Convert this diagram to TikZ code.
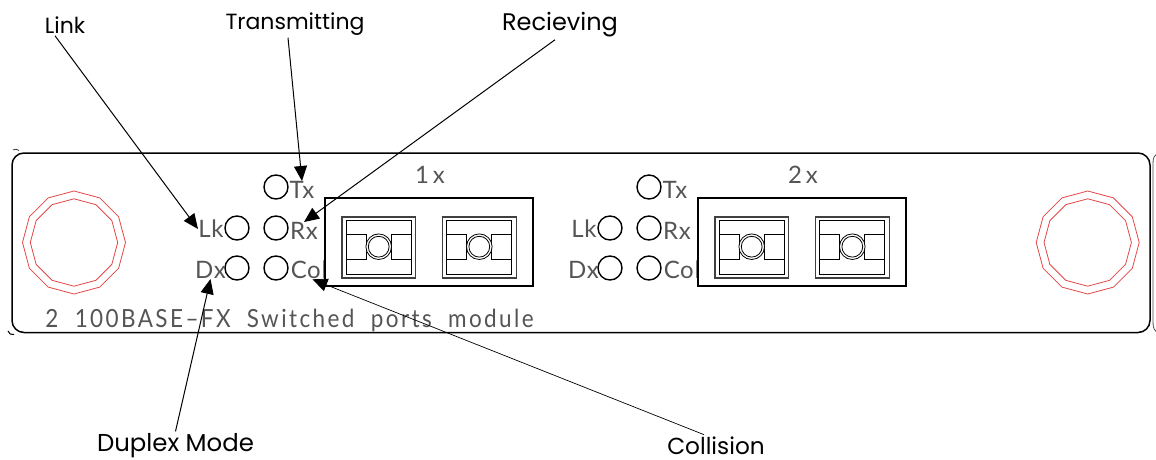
\documentclass[tikz,border=0pt]{standalone}
\usepackage{fontspec}
\setmainfont{Poppins}
\usetikzlibrary{arrows.meta,shapes.geometric}
\newfontfamily\platefont[LetterSpace=3]{Lato}
\newfontfamily\titlefont[LetterSpace=9.6,FakeStretch=.9]{Lato}
\definecolor{boltred}{RGB}{226,70,70}
\definecolor{platetxt}{RGB}{85,85,85}
\tikzset{
  led/.style={circle,draw,line width=.7pt,minimum size=12pt,inner sep=0pt,outer sep=0pt},
  ledtxt/.style={font=\platefont\fontsize{12}{12}\selectfont,text=platetxt,inner sep=0pt},
  calltxt/.style={font=\fontsize{#1}{13}\selectfont,inner sep=1pt},
  calltxt/.default=11,
  callout/.style={line width=.5pt,-{Triangle[length=7.5pt,width=6.5pt]}},
  bolt/.style={regular polygon,regular polygon sides=12,shape border rotate=15,draw=boltred,line width=.4pt,inner sep=0pt,outer sep=0pt}
}
\begin{document}
\begin{tikzpicture}[x=.5pt,y=-.5pt]
  \useasboundingbox (0,0) rectangle (1156,460);

  % plate
  \draw[line width=.75pt,rounded corners=6pt] (12,153) rectangle (1150,332.5);
  \draw[line width=.3pt] (13,150) .. controls (15,148.5) and (17,149) .. (19,150.5);
  \draw[line width=.5pt] (8,331) .. controls (9,334) and (11,335) .. (14,334.5);
  \draw[line width=.4pt,draw=black!70] (1159,153) .. controls (1154,155) and (1153,158) .. (1153,163) -- (1153,322) .. controls (1153,328) and (1154,331) .. (1159,333);

  % bolts
  \foreach \b/\x in {la/74,ra/1087.7}{
    \node[bolt,minimum size=51.5pt] (\b) at (\x,242.5) {};
    \node[bolt,minimum size=43.7pt] (\b i) at (\x,242.5) {};
  }

  % the two port groups
  \foreach \g/\dx/\num in {a/0/1,b/373/2}{
    \begin{scope}[xshift=\dx*.5pt]
      \node[led] (\g tx) at (276,187) {};
      \node[led] (\g rx) at (276,228) {};
      \node[led] (\g col) at (276,268) {};
      \node[led] (\g lk) at (237,228) {};
      \node[led] (\g dx) at (237,268) {};
      \node[ledtxt] (\g txl) at (302,190) {Tx};
      \node[ledtxt] (\g rxl) at (304,231) {Rx};
      \node[ledtxt] (\g coll) at (309,270) {Col};
      \node[ledtxt] (\g lkl) at (211,229) {Lk};
      \node[ledtxt] (\g dxl) at (210.5,270) {Dx};
      \node[ledtxt] (\g num) at (430,175) {\num\,x};
      \draw[line width=.6pt] (325,198) rectangle (533,286);
      \foreach \p in {0,100.6}{
        \begin{scope}[xshift=\p*.5pt]
          \draw[line width=.55pt,draw=black!75] (342,217) rectangle (415.5,278);
          \draw[line width=.4pt] (346,220.5) rectangle (411,274);
          \draw[line width=.4pt] (346,234) rectangle (366,259);
          \draw[line width=.4pt] (391,234) rectangle (411,259);
          \draw[line width=.4pt,fill=white] (378.7,246.7) circle (6.4pt);
          \draw[line width=.4pt] (378.7,246.7) circle (5.2pt);
        \end{scope}
      }
    \end{scope}
  }

  \node[ledtxt,font=\titlefont\fontsize{12.5}{13}\selectfont,anchor=west] (title) at (45,320) {2\ \ 100BASE–FX\ \ Switched\ \ ports\ \ module};

  % callouts
  \node[calltxt] (link) at (65,25) {Link};
  \node[calltxt] (trans) at (295,24) {Transmitting};
  \node[calltxt=12] (recv) at (560,25) {Recieving};
  \node[calltxt=12.2] (duplex) at (175.5,446) {Duplex Mode};
  \node[calltxt=11.6] (coll) at (716,446) {Collision};

  \draw[callout] (link.south) ++(-10,0) -- (alkl.west);
  \draw[callout] (trans.south) ++(-7,0) -- (atxl.north);
  \draw[callout] (recv.south) ++(-5,0) -- (arxl.north);
  \draw[callout] (duplex.north) -- (adxl.south);
  \draw[callout,line width=.35pt] (coll.north) ++(-12,0) -- (acoll.-70);
\end{tikzpicture}
\end{document}
